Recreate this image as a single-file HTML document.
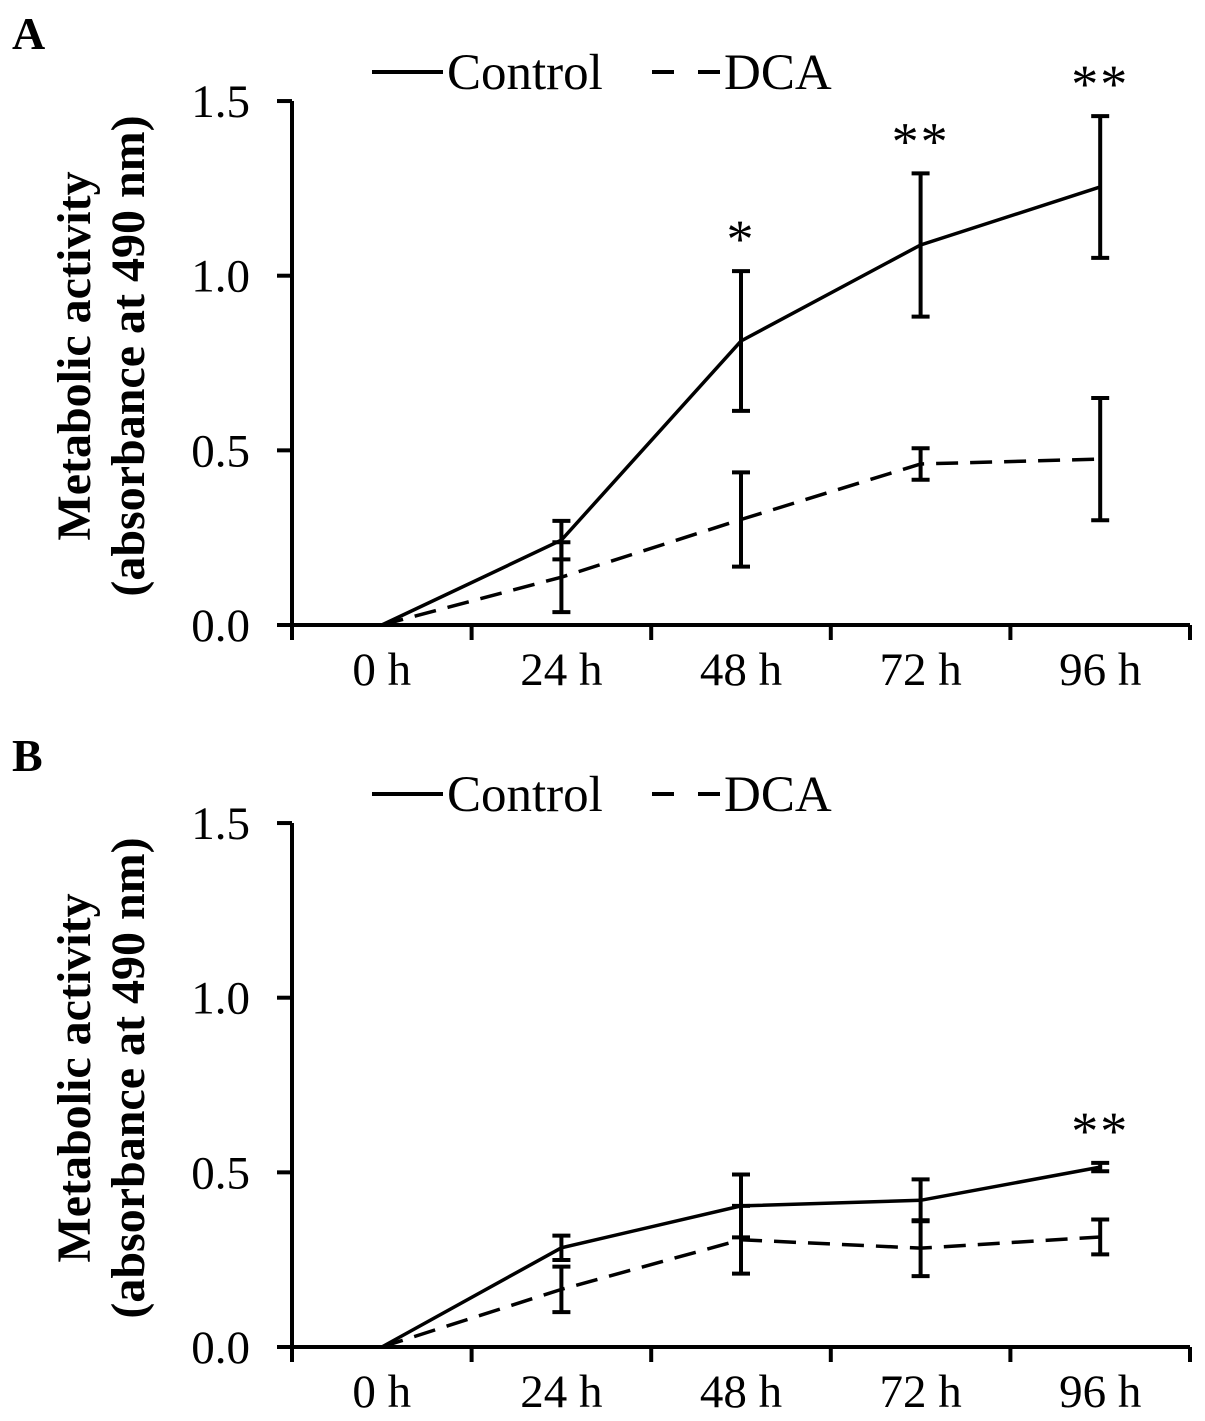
<!DOCTYPE html>
<html><head><meta charset="utf-8"><style>
body{margin:0;background:#fff}
svg{display:block;font-family:"Liberation Serif",serif}
</style></head><body>
<svg id="fig" width="1205" height="1421" viewBox="0 0 1205 1421"></svg>
<script>
const categories=["0 h","24 h","48 h","72 h","96 h"];
const yTicks=[0,0.5,1.0,1.5];
const yTickLabels=["0.0","0.5","1.0","1.5"];
const aControl=[0,0.243,0.813,1.088,1.254];
const aControlErr=[0,0.055,0.2,0.205,0.203];
const aDCA=[0,0.137,0.302,0.461,0.475];
const aDCAErr=[0,0.1,0.135,0.045,0.175];
const aStars=["","","*","**","**"];
const bControl=[0,0.284,0.404,0.42,0.515];
const bControlErr=[0,0.035,0.09,0.06,0.012];
const bDCA=[0,0.165,0.307,0.283,0.315];
const bDCAErr=[0,0.065,0.097,0.08,0.05];
const bStars=["","","","","**"];

const NS="http://www.w3.org/2000/svg";
const svg=document.getElementById('fig');
function mk(tag,attrs,parent,text){const e=document.createElementNS(NS,tag);for(const k in attrs)e.setAttribute(k,attrs[k]);if(text!==undefined)e.textContent=text;(parent||svg).appendChild(e);return e;}

function panel(letter,off,ctrl,ctrlErr,dca,dcaErr,stars){
  const g=mk('g',{});
  
  
  const x0=292,x1=1190,y0=625+off,ppu=349.3;
  const xs=i=>x0+(x1-x0)/5*(i+0.5);
  const ys=v=>y0-v*ppu;
  const pl=mk('text',{x:12,y:49+off,'font-size':46,'font-weight':'bold'},g,letter);
  
  const ya=mk('line',{x1:x0,y1:ys(1.5),x2:x0,y2:y0,stroke:'#000','stroke-width':4},g);
  
  const xa=mk('line',{x1:x0-2,y1:y0,x2:x1,y2:y0,stroke:'#000','stroke-width':4},g);
  
  yTicks.forEach((t,i)=>{
    mk('line',{x1:x0-15,y1:ys(t),x2:x0,y2:ys(t),stroke:'#000','stroke-width':4},g);
    const tl=mk('text',{x:250,y:ys(t)+16,'font-size':47,'text-anchor':'end'},g,yTickLabels[i]);
    
  });
  for(let i=0;i<=5;i++){const x=x0+(x1-x0)/5*i;mk('line',{x1:x,y1:y0,x2:x,y2:y0+15,stroke:'#000','stroke-width':4},g);}
  categories.forEach((c,i)=>{
    const tl=mk('text',{x:xs(i),y:y0+60,'font-size':47,'text-anchor':'middle'},g,c);
    
  });
  const tt=mk('text',{transform:`translate(90,${356+off}) rotate(-90)`,'font-size':48,'font-weight':'bold','text-anchor':'middle'},g,'Metabolic activity');
  
  const tt2=mk('text',{transform:`translate(144,${356+off}) rotate(-90)`,'font-size':48,'font-weight':'bold','text-anchor':'middle'},g,'(absorbance at 490 nm)');
  
  function series(vals,errs,dash,name){
    const pts=vals.map((v,i)=>xs(i)+','+ys(v)).join(' ');
    const p=mk('polyline',{points:pts,fill:'none',stroke:'#000','stroke-width':3.5,'stroke-dasharray':dash},g);
    
    vals.forEach((v,i)=>{
      if(!errs[i])return;
      const x=xs(i),t=ys(v+errs[i]),b=ys(v-errs[i]);
      const eb=mk('path',{d:`M${x},${t}V${b}M${x-9},${t}H${x+9}M${x-9},${b}H${x+9}`,stroke:'#000','stroke-width':4,fill:'none'},g);
      
    });
  }
  series(ctrl,ctrlErr,'none','control');
  series(dca,dcaErr,'22 12','dca');
  stars.forEach((s,i)=>{
    if(!s)return;
    const st=mk('text',{x:xs(i),y:ys(ctrl[i]+ctrlErr[i])-14,'font-size':54,'text-anchor':'middle','letter-spacing':'2'},g,s);
    
  });
  const lg=mk('g',{},g);
  
  mk('line',{x1:372,y1:72+off,x2:443,y2:72+off,stroke:'#000','stroke-width':4},lg);
  mk('text',{x:447,y:89+off,'font-size':51},lg,'Control');
  mk('line',{x1:652,y1:72+off,x2:720,y2:72+off,stroke:'#000','stroke-width':4,'stroke-dasharray':'22 24'},lg);
  mk('text',{x:724,y:89+off,'font-size':51},lg,'DCA');
}
panel('A',0,aControl,aControlErr,aDCA,aDCAErr,aStars);
panel('B',722,bControl,bControlErr,bDCA,bDCAErr,bStars);
</script>
</body></html>
